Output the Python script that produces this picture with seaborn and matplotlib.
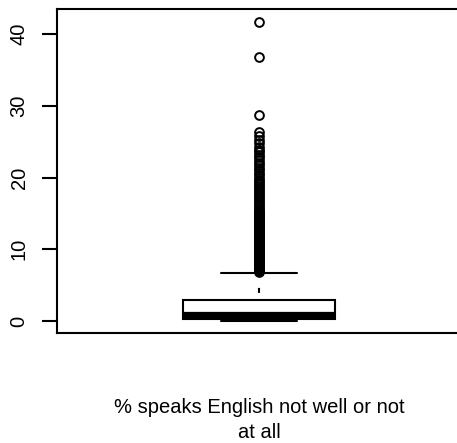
import numpy as np
import pandas as pd
import matplotlib
matplotlib.use("Agg")
import matplotlib.pyplot as plt
import seaborn as sns

# box body: value levels and how many rows sit on each (quartiles)
body_values = [0.0, 0.35, 0.8, 2.9, 6.7]
body_counts = [100, 200, 300, 300, 80]

# outliers above the upper whisker
outliers = [6.8, 6.95, 7.1, 7.25, 7.4, 7.55, 7.7, 7.85, 8.0, 8.15, 8.3, 8.45,
            8.6, 8.75, 8.9, 9.05, 9.2, 9.35, 9.5, 9.65, 9.8, 9.95, 10.1, 10.25,
            10.4, 10.55, 10.7, 10.85, 11.0, 11.15, 11.3, 11.45, 11.6, 11.75,
            11.9, 12.05, 12.2, 12.35, 12.5, 12.65, 12.8, 12.95, 13.1, 13.25,
            13.4, 13.55, 13.7, 13.85, 14.0, 14.15, 14.3, 14.45, 14.6, 14.75,
            14.9, 15.05, 15.2, 15.35, 15.5,
            15.8, 16.1, 16.3, 16.6, 16.9, 17.1, 17.4, 17.7, 18.0, 18.3, 18.5,
            18.8, 19.1, 19.4, 19.7, 20.0, 20.3, 20.7, 21.0, 21.3, 21.7, 22.0,
            22.4, 22.8, 23.2, 23.5, 23.9, 24.3, 24.8, 25.3, 25.8, 26.4,
            28.7, 36.8, 41.7]

x_label = "% speaks English not well or not\nat all"
y_ticks = [0, 10, 20, 30, 40]

df = pd.DataFrame({"value": np.repeat(body_values, body_counts).tolist() + outliers})

sns.set_style("white")
plt.rcParams["font.family"] = ["Liberation Sans", "DejaVu Sans"]
plt.rcParams["text.color"] = "black"

fig = plt.figure(figsize=(4.57, 4.43), dpi=100)
ax = fig.add_axes([57 / 457, 110 / 443, 404 / 457, 324 / 443])

sns.boxplot(data=df, y="value", ax=ax, width=0.376, whis=1.5,
            color="white", linecolor="black", linewidth=1.5,
            fliersize=6.3,
            flierprops={"marker": "o", "markerfacecolor": "none",
                        "markeredgecolor": "black", "markeredgewidth": 1.4},
            medianprops={"linewidth": 4.5},
            whiskerprops={"linestyle": (4.8, (2.4, 5.8))})

ax.set_xlim(-0.5, 0.5)
ax.set_ylim(-1.67, 43.5)
ax.set_yticks(y_ticks)
ax.set_yticklabels([str(t) for t in y_ticks], rotation=90, va="center", fontsize=14.5)
ax.set_xticks([])
ax.tick_params(axis="y", left=True, direction="out", length=10.5, width=1.5,
               pad=10, colors="black")
ax.set_ylabel("")
ax.set_xlabel(x_label, fontsize=14.5, labelpad=47, linespacing=1.35, color="black")
for side in ["left", "top", "bottom", "right"]:
    ax.spines[side].set_visible(True)
    ax.spines[side].set_color("black")
    ax.spines[side].set_linewidth(1.5)

fig.savefig("out.png", dpi=100)
